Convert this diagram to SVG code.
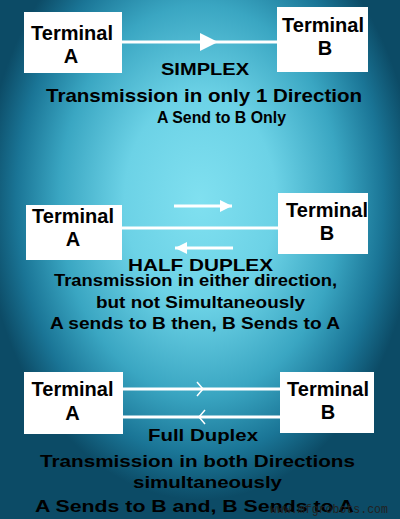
<svg xmlns="http://www.w3.org/2000/svg" width="400" height="519" viewBox="0 0 400 519">
<defs>
<radialGradient id="bg" cx="200" cy="200" r="300" gradientUnits="userSpaceOnUse" gradientTransform="translate(200 200) scale(0.72 1) translate(-200 -200)">
<stop offset="0" stop-color="#80e0f0"/>
<stop offset="0.35" stop-color="#6cd2e6"/>
<stop offset="0.65" stop-color="#3aa6c2"/>
<stop offset="0.85" stop-color="#1a7596"/>
<stop offset="1" stop-color="#0c4b66"/>
</radialGradient>
<marker id="tri2" viewBox="0 0 10 10" refX="10" refY="5" markerWidth="12" markerHeight="12" markerUnits="userSpaceOnUse" orient="auto">
<path d="M0,0 L10,5 L0,10 Z" fill="#fff"/>
</marker>
</defs>
<style>
.box{fill:#fff}
.t{font-family:"Liberation Sans",Arial,sans-serif;font-weight:bold;fill:#000;text-anchor:middle}
.tn{font-size:20px}
.cap{font-size:17px}
.ln{stroke:#fff;stroke-width:3;fill:none}
.wm{font-family:"Liberation Mono","Courier New",monospace;font-size:12px;fill:#222}
</style>
<rect x="0" y="0" width="400" height="519" fill="url(#bg)"/>

<g id="connectors">
<line class="ln" x1="122" y1="42" x2="277" y2="42"/>
<path d="M200,33 L218,42 L200,51 Z" fill="#fff"/>
<line class="ln" x1="122" y1="228" x2="278" y2="228"/>
<line class="ln" x1="174" y1="206" x2="232" y2="206" marker-end="url(#tri2)"/>
<line class="ln" x1="233" y1="248" x2="175" y2="248" marker-end="url(#tri2)"/>
<line class="ln" x1="123" y1="389" x2="280" y2="389"/>
<path d="M197,382 L203,389 L197,396" fill="none" stroke="#fff" stroke-width="1.5"/>
<line class="ln" x1="123" y1="417" x2="280" y2="417"/>
<path d="M205,410 L199,417 L205,424" fill="none" stroke="#fff" stroke-width="1.5"/>
</g>

<g id="simplex-a">
<rect class="box" x="24" y="12" width="98" height="61"/>
<text class="t tn" x="72" y="40">Terminal</text>
<text class="t tn" x="71" y="63">A</text>
</g>
<g id="simplex-b">
<rect class="box" x="277" y="7" width="91" height="65"/>
<text class="t tn" x="323" y="32">Terminal</text>
<text class="t tn" x="325" y="55">B</text>
</g>
<g id="simplex-text">
<text class="t cap" x="205" y="75" textLength="88" lengthAdjust="spacingAndGlyphs">SIMPLEX</text>
<text class="t" style="font-size:18.5px" x="204" y="101.5" textLength="316" lengthAdjust="spacingAndGlyphs">Transmission in only 1 Direction</text>
<text class="t" style="font-size:16.5px" x="221.5" y="123" textLength="129" lengthAdjust="spacingAndGlyphs">A Send to B Only</text>
</g>

<g id="half-a">
<rect class="box" x="26" y="205" width="96" height="55"/>
<text class="t tn" x="73" y="222.5">Terminal</text>
<text class="t tn" x="73" y="245.5">A</text>
</g>
<g id="half-b">
<rect class="box" x="278" y="193" width="90" height="61"/>
<text class="t tn" x="327" y="216.5">Terminal</text>
<text class="t tn" x="327" y="240">B</text>
</g>
<g id="half-text">
<text class="t cap" x="200.5" y="271" textLength="145" lengthAdjust="spacingAndGlyphs">HALF DUPLEX</text>
<text class="t" style="font-size:16.5px" x="195.5" y="285.5" textLength="283" lengthAdjust="spacingAndGlyphs">Transmission in either direction,</text>
<text class="t" style="font-size:16.5px" x="200.5" y="308" textLength="209" lengthAdjust="spacingAndGlyphs">but not Simultaneously</text>
<text class="t" style="font-size:16.5px" x="195" y="328.5" textLength="290" lengthAdjust="spacingAndGlyphs">A sends to B then, B Sends to A</text>
</g>

<g id="full-a">
<rect class="box" x="24" y="372" width="99" height="62"/>
<text class="t tn" x="72.5" y="396">Terminal</text>
<text class="t tn" x="72.5" y="420">A</text>
</g>
<g id="full-b">
<rect class="box" x="280" y="372" width="94" height="61"/>
<text class="t tn" x="328" y="396">Terminal</text>
<text class="t tn" x="328" y="419">B</text>
</g>
<g id="full-text">
<text class="t cap" x="203" y="440.5" textLength="110" lengthAdjust="spacingAndGlyphs">Full Duplex</text>
<text class="t cap" x="197.5" y="467" textLength="315" lengthAdjust="spacingAndGlyphs">Transmission in both Directions</text>
<text class="t cap" x="207.5" y="488" textLength="149" lengthAdjust="spacingAndGlyphs">simultaneously</text>
<text class="t cap" x="194.5" y="512" textLength="319" lengthAdjust="spacingAndGlyphs">A Sends to B and, B Sends to A</text>
<text class="wm" x="270" y="513" textLength="118" lengthAdjust="spacingAndGlyphs">www.mfgrobots.com</text>
</g>
</svg>
